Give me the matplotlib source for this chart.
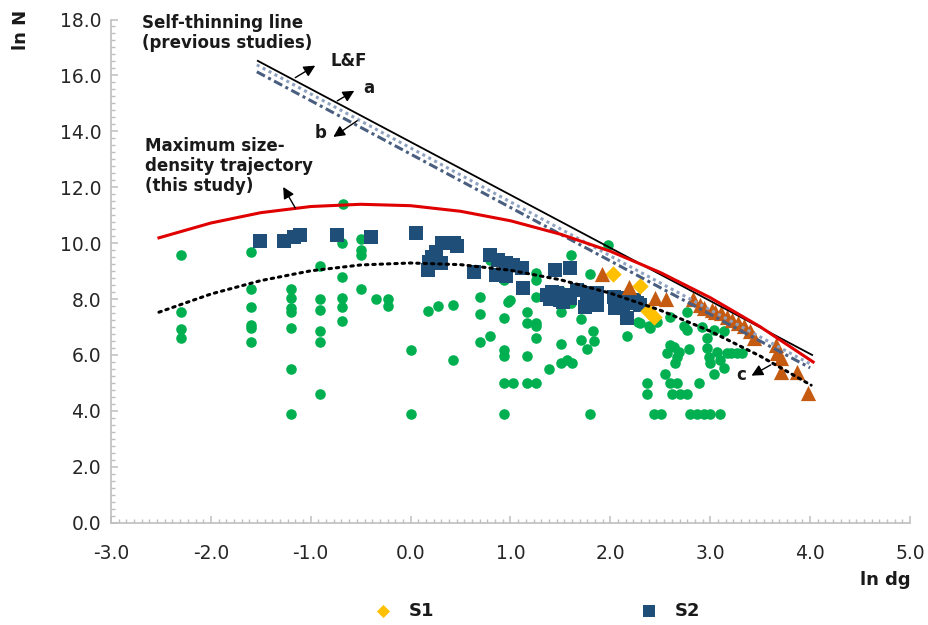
import matplotlib
matplotlib.use("Agg")
import matplotlib.pyplot as plt
from matplotlib.ticker import MultipleLocator

# ---------------- data ----------------
# S1 (yellow diamonds)
s1_x = [2.03, 2.30, 2.38, 2.44]
s1_y = [8.90, 8.45, 7.58, 7.35]

# S2 (dark blue squares)
s2_x = [-1.51, -1.27, -1.17, -1.11, -0.74, -0.40, 0.05, 0.31, 0.43, 0.46, 0.25, 0.21,
        0.18, 0.30, 0.17, 0.63, 0.79, 0.87, 0.95, 1.03, 1.12, 0.85, 0.95, 1.13, 1.45,
        1.60, 1.37, 1.47, 1.57, 1.67, 1.77, 1.87, 1.77, 1.87, 1.53, 2.04, 2.12, 2.24,
        2.30, 2.05, 2.17, 2.07, 2.17, 2.27, 2.13, 1.75, 1.40, 1.50, 1.60, 1.42]
s2_y = [10.09, 10.09, 10.21, 10.30, 10.30, 10.21, 10.38, 10.00, 10.00, 9.88, 9.70, 9.52,
        9.34, 9.28, 9.04, 8.98, 9.58, 9.40, 9.28, 9.22, 9.10, 8.87, 8.83, 8.39, 9.04,
        9.10, 8.15, 8.21, 8.15, 8.33, 8.21, 8.21, 7.85, 7.79, 7.91, 8.09, 8.03, 7.97,
        7.79, 7.67, 7.32, 7.85, 7.97, 7.85, 7.73, 7.73, 8.00, 7.97, 8.05, 8.27]

# green circles
g_x = [-0.68, -2.30, -1.60, -0.69, -0.50, -0.50, -0.50, -0.91, -0.69, -0.50, -1.60, -1.20,
       -1.20, -0.91, -0.69, -0.35, -0.23, -0.23, -2.30, -1.60, -1.20, -1.20, -0.91, -0.69,
       -0.69, 0.17, -2.30, -2.30, -1.60, -1.60, -1.60, -1.20, -0.91, -0.91, 0.00, -1.20,
       -0.91, -1.20, 0.00,
       1.98, 1.61, 0.79, 1.80, 1.26, 1.26, 0.93, 1.51, 1.26, 0.69, 0.97, 1.00, 1.61, 1.79,
       1.88, 0.27, 0.42, 0.69, 0.93, 1.17, 1.17, 1.26, 1.26, 1.51, 1.71, 0.79, 0.69, 1.26,
       1.51, 1.71, 1.83, 1.84, 1.77, 0.42, 0.93, 0.93, 1.17, 1.51, 1.57, 1.62, 1.39, 0.93,
       1.03, 1.17, 1.26, 0.93, 1.80,
       2.37, 2.37, 2.30, 2.39, 2.17, 2.28, 2.47, 2.40, 2.60, 2.77, 2.74, 2.77, 2.92, 2.97,
       3.04, 3.14, 2.60, 2.64, 2.57, 2.69, 2.79, 2.67, 2.65, 2.97, 2.99, 3.07, 3.00, 3.10,
       3.14, 3.17, 3.21, 3.27, 3.32, 3.04, 2.55, 2.60, 2.67, 2.89, 2.62, 2.70, 2.77, 2.44,
       2.51, 2.80, 2.87, 2.94, 3.00, 3.10]
g_y = [11.41, 9.58, 9.68, 10.00, 10.15, 9.76, 9.56, 9.20, 8.80, 8.36, 8.36, 8.36,
       8.05, 8.00, 8.03, 8.00, 8.00, 7.76, 7.55, 7.73, 7.67, 7.55, 7.61, 7.73,
       7.23, 7.59, 6.92, 6.60, 7.08, 6.96, 6.46, 6.96, 6.84, 6.46, 6.18, 5.49,
       4.60, 3.88, 3.88,
       9.94, 9.58, 9.38, 8.89, 8.93, 8.69, 8.69, 8.29, 8.09, 8.07, 7.91, 7.97, 7.87, 7.82,
       8.01, 7.76, 7.79, 7.46, 7.34, 7.55, 7.16, 7.16, 7.05, 7.53, 7.29, 6.68, 6.46, 6.60,
       6.40, 6.54, 6.84, 6.51, 6.20, 5.82, 6.18, 5.98, 5.98, 5.73, 5.82, 5.70, 5.49, 4.99,
       4.99, 4.99, 4.99, 3.88, 3.88,
       4.99, 4.60, 7.16, 7.05, 6.68, 7.19, 7.19, 6.96, 7.35, 7.52, 7.02, 6.90, 6.99, 6.60,
       6.90, 6.84, 6.36, 6.30, 6.06, 6.12, 6.21, 5.94, 5.70, 6.24, 5.94, 6.12, 5.70, 5.82,
       5.53, 6.06, 6.08, 6.08, 6.08, 5.32, 5.32, 4.99, 4.99, 4.99, 4.60, 4.60, 4.60, 3.88,
       3.88, 3.88, 3.88, 3.88, 3.88, 3.88]

# orange triangles
t_x = [1.92, 2.19, 2.45, 2.56, 2.83, 2.90, 2.94, 3.02, 3.11, 3.17, 3.22, 3.34, 3.40,
       3.44, 3.66, 3.67, 3.71, 3.71, 3.87, 3.98, 3.28, 3.05]
t_y = [8.90, 8.42, 8.05, 8.01, 8.00, 7.79, 7.67, 7.61, 7.49, 7.37, 7.25, 7.02, 6.84,
       6.60, 6.36, 6.06, 5.88, 5.40, 5.40, 4.65, 7.16, 7.55]

# self-thinning lines (previous studies): end points
lf_x = [-1.53, 4.02]
lf_y = [16.52, 6.00]
a_x = [-1.54, 4.00]
a_y = [16.38, 5.68]
b_x = [-1.54, 4.00]
b_y = [16.13, 5.54]

# maximum size-density trajectory (this study)
red_x = [-2.52, -2.0, -1.5, -1.0, -0.5, 0.0, 0.5, 1.0, 1.5, 2.0, 2.5, 3.0, 3.5, 4.03]
red_y = [10.19, 10.72, 11.09, 11.31, 11.39, 11.34, 11.14, 10.80, 10.32, 9.71, 8.95, 8.05, 7.01, 5.75]

# dotted trend curve
dot_x = [-2.52, -2.0, -1.5, -1.0, -0.5, 0.0, 0.5, 1.0, 1.5, 2.0, 2.5, 3.0, 3.5, 4.01]
dot_y = [7.53, 8.18, 8.66, 9.01, 9.22, 9.29, 9.23, 9.03, 8.69, 8.21, 7.60, 6.85, 5.96, 4.92]

x_ticks = [-3.0, -2.0, -1.0, 0.0, 1.0, 2.0, 3.0, 4.0, 5.0]
y_ticks = [0.0, 2.0, 4.0, 6.0, 8.0, 10.0, 12.0, 14.0, 16.0, 18.0]

# ---------------- figure ----------------
W, H = 929, 625
fig = plt.figure(figsize=(W / 100, H / 100), dpi=100)
ax = fig.add_axes([111 / W, 1 - 522.7 / H, (910 - 111) / W, (522.7 - 19.5) / H])

green = "#00B050"
blue = "#1F4E79"
orange = "#C55A11"
yellow = "#FFC000"

ax.scatter(g_x, g_y, s=58, marker="o", color=green, zorder=2, linewidths=0)
ax.scatter(s2_x, s2_y, s=100, marker="s", color=blue, zorder=2, linewidths=0, label="S2")
ax.scatter(s1_x, s1_y, s=70, marker="D", color=yellow, zorder=2, linewidths=0, label="S1")
ax.scatter(t_x, t_y, s=120, marker="^", color=orange, zorder=2, linewidths=0)

ax.plot(lf_x, lf_y, color="black", lw=1.3, zorder=3)
ax.plot(a_x, a_y, color="#8EA2C0", lw=2.2, ls=(0, (1, 1.2)), zorder=3)
ax.plot(b_x, b_y, color="#4A5F80", lw=2.2, ls=(0, (3, 1.2, 1, 1.2)), zorder=3)
ax.plot(red_x, red_y, color="#E00000", lw=2.2, zorder=3)
ax.plot(dot_x, dot_y, color="black", lw=2.2, ls=(0, (0.8, 1.6)), dash_capstyle="round", zorder=3)

ax.set_xlim(-3.0, 5.0)
ax.set_ylim(0.0, 18.0)
ax.set_xticks(x_ticks)
ax.set_yticks(y_ticks)
ax.set_xticklabels([f"{v:.1f}" for v in x_ticks])
ax.set_yticklabels([f"{v:.1f}" for v in y_ticks])
ax.xaxis.set_minor_locator(MultipleLocator(1 / 13))
ax.yaxis.set_minor_locator(MultipleLocator(0.25))

for s in ["top", "right"]:
    ax.spines[s].set_visible(False)
for s in ["left", "bottom"]:
    ax.spines[s].set_color("#BFBFBF")
    ax.spines[s].set_linewidth(1.2)
ax.tick_params(axis="both", which="major", direction="in", length=5, width=1.1,
               color="#BFBFBF", labelsize=13.5, labelcolor="#262626")
ax.tick_params(axis="both", which="minor", direction="in", length=3, width=1.0, color="#BFBFBF")
ax.tick_params(axis="x", which="major", pad=15)
ax.tick_params(axis="y", which="major", pad=7)

# annotations
tk = dict(fontsize=12, fontweight="bold", color="#1a1a1a")
ax.text(-2.69, 18.2, "Self-thinning line\n(previous studies)", va="top", ha="left",
        linespacing=1.15, **tk)
ax.text(-2.66, 13.8, "Maximum size-\ndensity trajectory\n(this study)", va="top", ha="left",
        linespacing=1.15, **tk)
ax.text(-0.80, 16.52, "L&F", va="center", ha="left", **tk)
ax.text(-0.47, 15.56, "a", va="center", ha="left", **tk)
ax.text(-0.96, 13.94, "b", va="center", ha="left", **tk)
ax.text(3.26, 5.29, "c", va="center", ha="left", **tk)

ap = dict(arrowstyle="-|>", color="black", lw=1.0, mutation_scale=17, shrinkA=0, shrinkB=0)
ax.annotate("", xy=(-0.955, 16.35), xytext=(-1.155, 15.92), arrowprops=ap)
ax.annotate("", xy=(-0.564, 15.45), xytext=(-0.734, 15.09), arrowprops=ap)
ax.annotate("", xy=(-0.774, 13.80), xytext=(-0.534, 14.38), arrowprops=ap)
ax.annotate("", xy=(-1.276, 12.01), xytext=(-1.155, 11.26), arrowprops=ap)
ax.annotate("", xy=(3.413, 5.26), xytext=(3.606, 5.645), arrowprops=ap)

# axis labels
fig.text(21 / W, 1 - 30 / H, "ln N", rotation=90, ha="center", va="center",
         fontsize=13, fontweight="bold", color="#1a1a1a")
fig.text(885 / W, 1 - 580 / H, "ln dg", ha="center", va="center",
         fontsize=13, fontweight="bold", color="#1a1a1a")

# legend
h1 = ax.scatter([], [], s=45, marker="D", color=yellow, linewidths=0)
h2 = ax.scatter([], [], s=70, marker="s", color=blue, linewidths=0)
fig.legend([h1, h2], ["S1", "S2"], loc="center", bbox_to_anchor=(538 / W, 1 - 611 / H),
           ncol=2, frameon=False, columnspacing=11.5, handlelength=0.8, handletextpad=1.0,
           prop=dict(size=13, weight="bold"), labelcolor="#1a1a1a")

fig.savefig("out.png", dpi=100)
